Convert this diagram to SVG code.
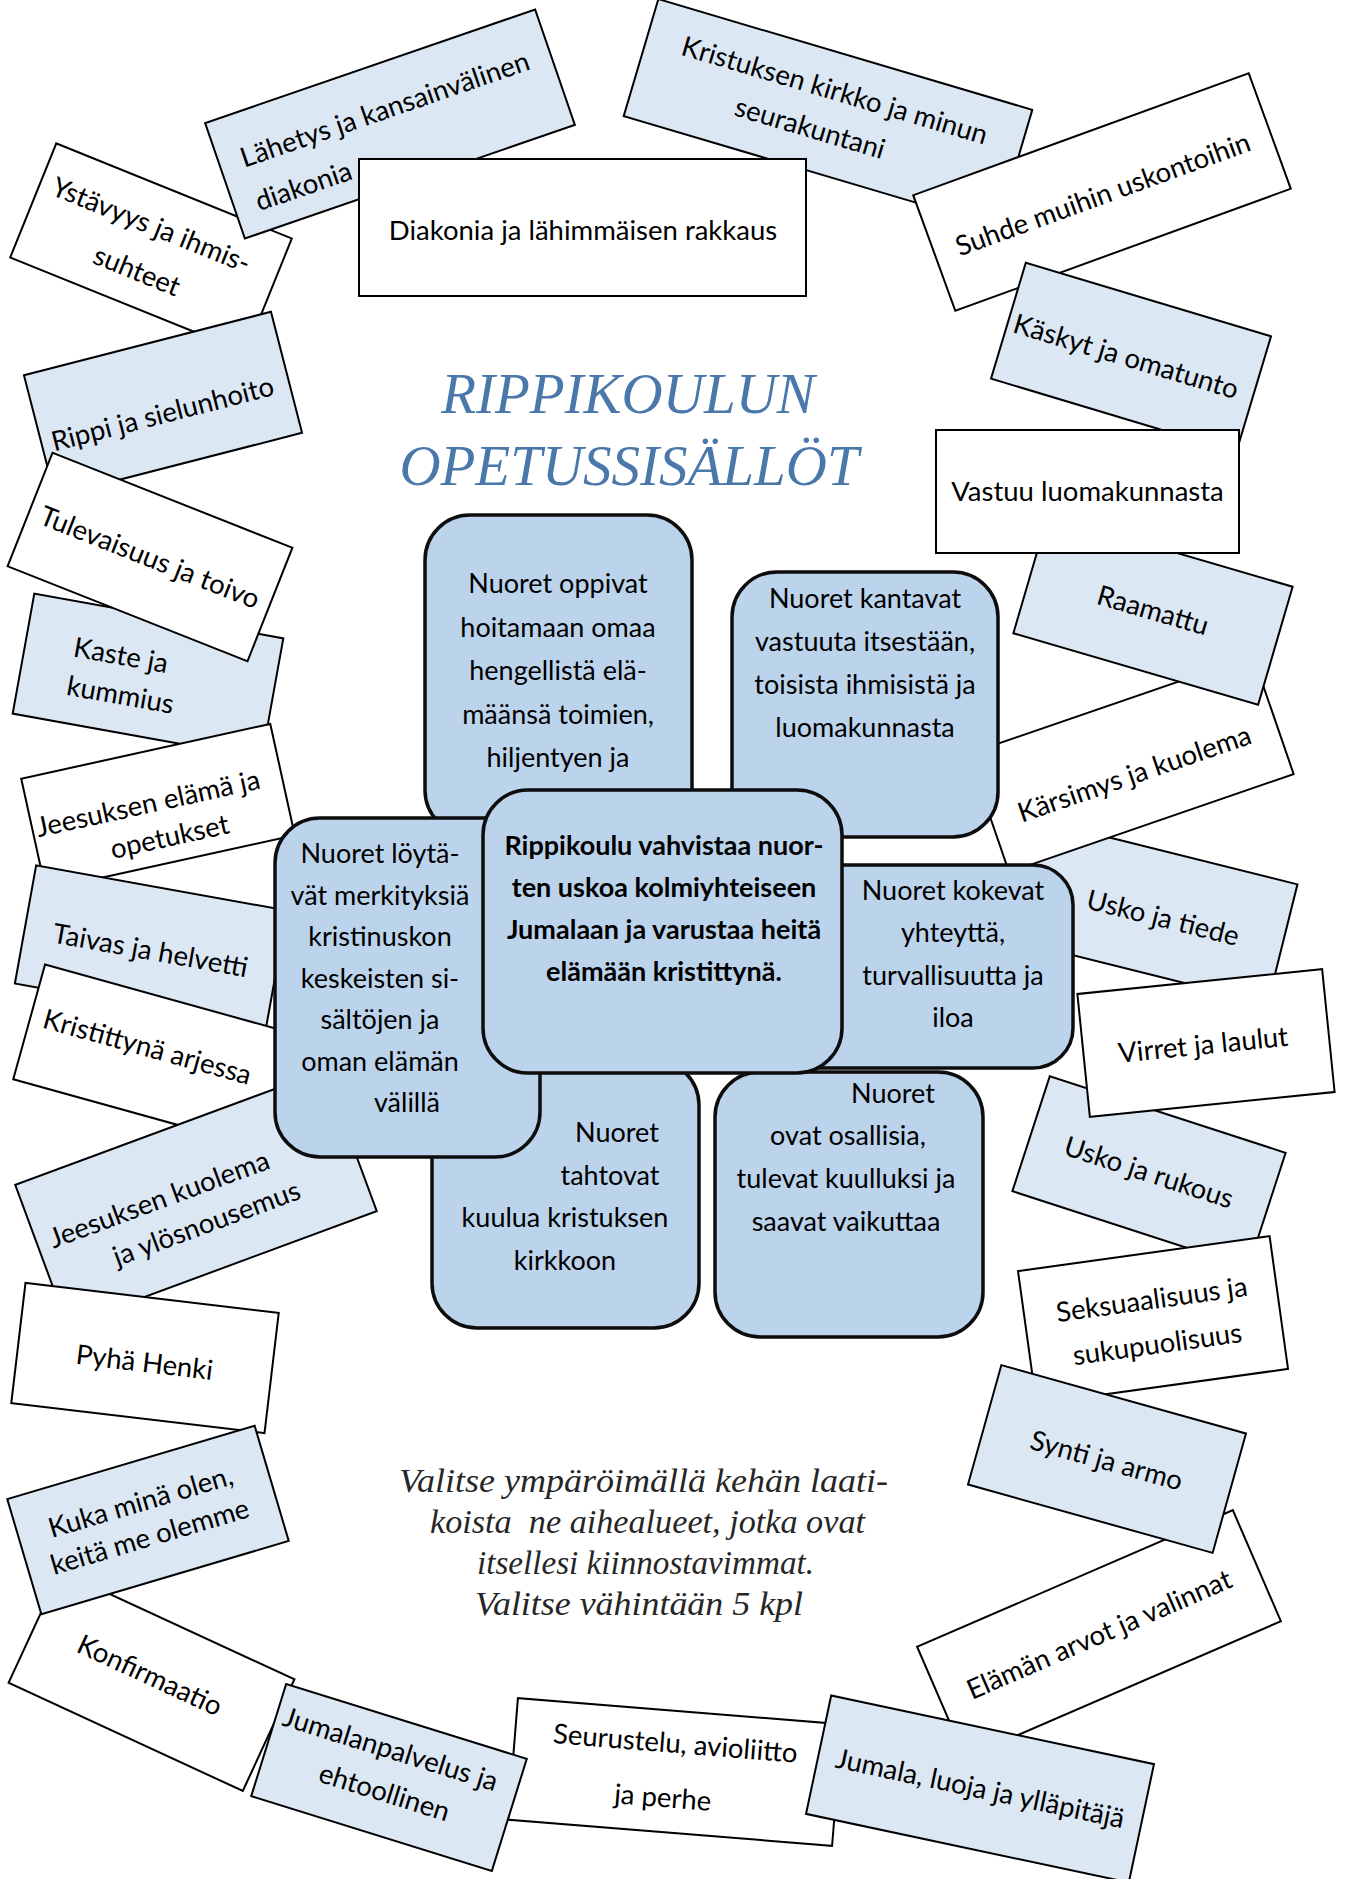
<svg xmlns="http://www.w3.org/2000/svg" width="1348" height="1879" viewBox="0 0 1348 1879">
<style>
  .rb{fill:#dce7f4;stroke:#000;stroke-width:2}
  .rw{fill:#ffffff;stroke:#000;stroke-width:2}
  .core{fill:#bcd3ec;stroke:#0d0d0d;stroke-width:3.5}
  .t{font-family:Lato,"Open Sans",sans-serif;font-size:27.5px;fill:#000;text-anchor:middle}
  .ts{font-family:Lato,"Open Sans",sans-serif;font-size:27.5px;fill:#000;text-anchor:start}
  .ct{font-family:Lato,"Open Sans",sans-serif;font-size:27px;fill:#000;text-anchor:middle}
  .cb{font-family:Lato,"Open Sans",sans-serif;font-size:27px;font-weight:bold;fill:#000;text-anchor:middle}
  .title{font-family:"Liberation Serif","DejaVu Serif",serif;font-style:italic;font-size:57px;fill:#4a78aa;text-anchor:middle}
  .ins{font-family:"Liberation Serif","DejaVu Serif",serif;font-style:italic;font-size:33px;fill:#262626;text-anchor:middle}
</style>
<rect width="1348" height="1879" fill="#fff"/>
<g id="ring">
  <g id="ystavyys" transform="translate(151 248) rotate(22)"><rect class="rw" x="-127" y="-61.5" width="254" height="123"/><text class="ts" x="-114" y="-12">Ystävyys ja ihmis-</text><text class="ts" x="-50" y="36">suhteet</text></g>
  <g id="lahetys" transform="translate(390 124) rotate(-19)"><rect class="rb" x="-174.5" y="-61" width="349" height="122"/><text class="ts" x="-152" y="-6">Lähetys ja kansainvälinen</text><text class="ts" x="-152" y="40">diakonia</text></g>
  <g id="kristuksen" transform="translate(828 113) rotate(16.5)"><rect class="rb" x="-195" y="-61" width="390" height="122"/><text class="t" x="0" y="-14">Kristuksen kirkko ja minun</text><text class="t" x="-13" y="29">seurakuntani</text></g>
  <g id="diakonia"><rect class="rw" x="359" y="159" width="447" height="137"/><text class="t" x="583" y="240">Diakonia ja lähimmäisen rakkaus</text></g>
  <g id="suhde" transform="translate(1102 192) rotate(-20)"><rect class="rw" x="-178.5" y="-61.5" width="357" height="123"/><text class="t" x="0" y="12">Suhde muihin uskontoihin</text></g>
  <g id="kaskyt" transform="translate(1131 357.5) rotate(16.7)"><rect class="rb" x="-128" y="-60.5" width="256" height="121"/><text class="t" x="-5" y="10">Käskyt ja omatunto</text></g>
  <g id="usko-tiede" transform="translate(1154 912) rotate(14)"><rect class="rb" x="-132.5" y="-61.5" width="265" height="123"/><text class="t" x="10" y="13">Usko ja tiede</text></g>
  <g id="karsimys" transform="translate(1131 764) rotate(-19)"><rect class="rw" x="-150.5" y="-62.5" width="301" height="125"/><text class="t" x="0" y="20">Kärsimys ja kuolema</text></g>
  <g id="raamattu" transform="translate(1153 610) rotate(16.3)"><rect class="rb" x="-127.5" y="-61.5" width="255" height="123"/><text class="t" x="0" y="10">Raamattu</text></g>
  <g id="vastuu"><rect class="rw" x="936" y="430" width="303" height="123"/><text class="t" x="1087.5" y="501">Vastuu luomakunnasta</text></g>
  <g id="rippi" transform="translate(163 404) rotate(-14.4)"><rect class="rb" x="-127.5" y="-62.5" width="255" height="125"/><text class="t" x="-3" y="19">Rippi ja sielunhoito</text></g>
  <g id="kaste" transform="translate(148 676) rotate(10.2)"><rect class="rb" x="-126.5" y="-61" width="253" height="122"/><text class="ts" x="-78" y="-6">Kaste ja</text><text class="ts" x="-78" y="33">kummius</text></g>
  <g id="tulevaisuus" transform="translate(150 557) rotate(21.6)"><rect class="rw" x="-129" y="-61" width="258" height="122"/><text class="t" x="0" y="10">Tulevaisuus ja toivo</text></g>
  <g id="jeesuksen-elama" transform="translate(158 807) rotate(-12.4)"><rect class="rw" x="-127.5" y="-57" width="255" height="114"/><text class="t" x="-9" y="4">Jeesuksen elämä ja</text><text class="t" x="5" y="41">opetukset</text></g>
  <g id="taivas" transform="translate(151 947) rotate(10.2)"><rect class="rb" x="-127.5" y="-60" width="255" height="120"/><text class="t" x="0" y="13">Taivas ja helvetti</text></g>
  <g id="kristittyna" transform="translate(152 1056) rotate(15.5)"><rect class="rw" x="-127.5" y="-59.5" width="255" height="119"/><text class="t" x="-7" y="2">Kristittynä arjessa</text></g>
  <g id="jeesuksen-kuolema" transform="translate(196 1198) rotate(-20.3)"><rect class="rb" x="-165" y="-75" width="330" height="150"/><text class="t" x="-35" y="-2">Jeesuksen kuolema</text><text class="t" x="1" y="37">ja ylösnousemus</text></g>
  <g id="pyha-henki" transform="translate(145 1358) rotate(6.75)"><rect class="rw" x="-127.5" y="-60.5" width="255" height="121"/><text class="t" x="0" y="14">Pyhä Henki</text></g>
  <g id="konfirmaatio" transform="translate(151.5 1681) rotate(24.8)"><rect class="rw" x="-129" y="-61.5" width="258" height="123"/><text class="t" x="-4" y="5">Konfirmaatio</text></g>
  <g id="kuka" transform="translate(148 1520) rotate(-16.5)"><rect class="rb" x="-129" y="-60" width="258" height="120"/><text class="t" x="-2" y="-10">Kuka minä olen,</text><text class="t" x="-3" y="26">keitä me olemme</text></g>
  <g id="usko-rukous" transform="translate(1149 1172) rotate(18)"><rect class="rb" x="-124" y="-60.5" width="248" height="121"/><text class="t" x="0" y="10">Usko ja rukous</text></g>
  <g id="virret" transform="translate(1206 1043) rotate(-5.8)"><rect class="rw" x="-123" y="-61.75" width="246" height="123.5"/><text class="t" x="-3" y="11">Virret ja laulut</text></g>
  <g id="seksuaalisuus" transform="translate(1153 1320) rotate(-7.9)"><rect class="rw" x="-127" y="-67" width="254" height="134"/><text class="t" x="1.5" y="-11">Seksuaalisuus ja</text><text class="t" x="1" y="34">sukupuolisuus</text></g>
  <g id="elaman" transform="translate(1099 1634) rotate(-23.4)"><rect class="rw" x="-172" y="-60.5" width="344" height="121"/><text class="t" x="0" y="10">Elämän arvot ja valinnat</text></g>
  <g id="synti" transform="translate(1107 1459) rotate(15.6)"><rect class="rb" x="-127" y="-62" width="254" height="124"/><text class="t" x="0" y="11">Synti ja armo</text></g>
  <g id="seurustelu" transform="translate(675 1772) rotate(4.6)"><rect class="rw" x="-162.5" y="-61" width="325" height="122"/><text class="t" x="-2" y="-19">Seurustelu, avioliitto</text><text class="t" x="-10" y="36">ja perhe</text></g>
  <g id="jumalanpalvelus" transform="translate(389 1777.5) rotate(17.3)"><rect class="rb" x="-126" y="-58.75" width="252" height="117.5"/><text class="t" x="-7" y="-18">Jumalanpalvelus ja</text><text class="t" x="0" y="25">ehtoollinen</text></g>
  <g id="jumala" transform="translate(980 1789) rotate(12)"><rect class="rb" x="-165" y="-60.5" width="330" height="121"/><text class="t" x="0" y="9">Jumala, luoja ja ylläpitäjä</text></g>
</g>
<g id="core">
  <g id="oppivat"><rect class="core" x="425" y="515" width="267" height="320" rx="45"/><text class="ct" x="558" y="593">Nuoret oppivat</text><text class="ct" x="558" y="637">hoitamaan omaa</text><text class="ct" x="558" y="680">hengellistä elä-</text><text class="ct" x="558" y="724">määnsä toimien,</text><text class="ct" x="558" y="767">hiljentyen ja</text></g>
  <g id="kantavat"><rect class="core" x="732" y="572" width="266" height="265" rx="45"/><text class="ct" x="865" y="608">Nuoret kantavat</text><text class="ct" x="865" y="651">vastuuta itsestään,</text><text class="ct" x="865" y="694">toisista ihmisistä ja</text><text class="ct" x="865" y="737">luomakunnasta</text></g>
  <g id="tahtovat"><rect class="core" x="432" y="1060" width="267" height="268" rx="45"/><text class="ct" x="617" y="1142">Nuoret</text><text class="ct" x="610" y="1185">tahtovat</text><text class="ct" x="565" y="1227">kuulua kristuksen</text><text class="ct" x="565" y="1270">kirkkoon</text></g>
  <g id="osallisia"><rect class="core" x="715" y="1072" width="268" height="265" rx="45"/><text class="ct" x="893" y="1103">Nuoret</text><text class="ct" x="848" y="1145">ovat osallisia,</text><text class="ct" x="846" y="1188">tulevat kuulluksi ja</text><text class="ct" x="846" y="1231">saavat vaikuttaa</text></g>
  <g id="loytavat"><rect class="core" x="275" y="818" width="265" height="339" rx="45"/><text class="ct" x="380" y="863">Nuoret löytä-</text><text class="ct" x="380" y="905">vät merkityksiä</text><text class="ct" x="380" y="946">kristinuskon</text><text class="ct" x="380" y="988">keskeisten si-</text><text class="ct" x="380" y="1029">sältöjen ja</text><text class="ct" x="380" y="1071">oman elämän</text><text class="ct" x="407" y="1112">välillä</text></g>
  <g id="kokevat"><rect class="core" x="780" y="865" width="293" height="203" rx="40"/><text class="ct" x="953" y="900">Nuoret kokevat</text><text class="ct" x="953" y="942">yhteyttä,</text><text class="ct" x="953" y="985">turvallisuutta ja</text><text class="ct" x="953" y="1027">iloa</text></g>
  <g id="keskus"><rect class="core" x="483" y="790" width="359" height="283" rx="45"/><text class="cb" x="664" y="855">Rippikoulu vahvistaa nuor-</text><text class="cb" x="664" y="897">ten uskoa kolmiyhteiseen</text><text class="cb" x="664" y="939">Jumalaan ja varustaa heitä</text><text class="cb" x="664" y="981">elämään kristittynä.</text></g>
</g>
<g id="otsikko"><text class="title" x="628" y="413">RIPPIKOULUN</text><text class="title" x="629" y="485">OPETUSSISÄLLÖT</text></g>
<g id="ohje">
  <text class="ins" x="643.5" y="1492" textLength="489" lengthAdjust="spacingAndGlyphs">Valitse ympäröimällä kehän laati-</text>
  <text class="ins" x="647.5" y="1533" textLength="435" lengthAdjust="spacingAndGlyphs" xml:space="preserve">koista  ne aihealueet, jotka ovat</text>
  <text class="ins" x="645.5" y="1574" textLength="337" lengthAdjust="spacingAndGlyphs">itsellesi kiinnostavimmat.</text>
  <text class="ins" x="639" y="1615" textLength="328" lengthAdjust="spacingAndGlyphs">Valitse vähintään 5 kpl</text>
</g>
</svg>
